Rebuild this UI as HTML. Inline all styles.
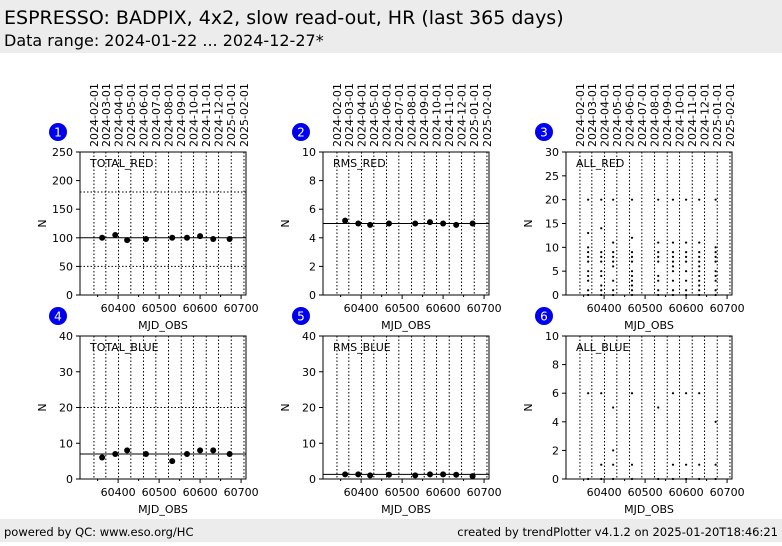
<!DOCTYPE html>
<html><head><meta charset="utf-8"><style>
body{margin:0;background:#fff;font-family:"DejaVu Sans","Liberation Sans",sans-serif;}
svg text{font-family:"DejaVu Sans","Liberation Sans",sans-serif;}
</style></head><body>
<svg id="c" width="782" height="542" viewBox="0 0 782 542" xmlns="http://www.w3.org/2000/svg">
<rect x="0" y="0" width="782" height="53" fill="#ececec"/>
<text x="4" y="24" font-size="19" fill="#000">ESPRESSO: BADPIX, 4x2, slow read-out, HR (last 365 days)</text>
<text x="4" y="46" font-size="16" fill="#000">Data range: 2024-01-22 ... 2024-12-27*</text>
<rect x="0" y="519" width="782" height="23" fill="#ececec"/>
<text x="4" y="536" font-size="11.5">powered by QC: www.eso.org/HC</text>
<text x="778" y="536" font-size="11.5" text-anchor="end">created by trendPlotter v4.1.2 on 2025-01-20T18:46:21</text>
<g id="plots"></g>
</svg>
<script>
const mjd = [60361,60393,60422,60468,60532,60568,60600,60632,60672];
const dateLabels = ["2024-02-01","2024-03-01","2024-04-01","2024-05-01","2024-06-01","2024-07-01","2024-08-01","2024-09-01","2024-10-01","2024-11-01","2024-12-01","2025-01-01","2025-02-01"];
const dateMjd = [60341,60370,60401,60431,60462,60492,60523,60554,60584,60615,60645,60676,60707];
const xTicks = [60400,60500,60600,60700];
const xMinor = [60350,60450,60550,60650];
const totalRed = [100,105,96,98,100,100,103,98,98];
const rmsRed = [5.2,5.0,4.9,5.0,5.0,5.1,5.0,4.9,5.0];
const totalBlue = [6,7,8,7,5,7,8,8,7];
const rmsBlue = [1.3,1.3,1.0,1.2,1.0,1.3,1.3,1.2,0.8];
const allRed = [[20,13,10,9,8,7,5,4,3,1,0],[20,14,9,8,7,5,4,2,1,0],[20,11,9,8,7,6,3,1,0],[20,12,9,8,7,5,4,3,2,1,0],[20,11,9,8,7,4,3,1,0],[20,11,9,8,7,6,5,3,1,0],[20,11,9,8,7,5,3,1,0],[20,11,9,8,7,6,5,4,3,2,1,0],[20,10,9,8,7,5,4,3,1,0]];
const allBlue = [[6,0],[6,1,0],[5,2,1,0],[6,1,0],[5,0],[6,1,0],[6,1,0],[6,1,0],[4,1,0]];
const panels = [
 {n:1,name:"TOTAL_RED",x:80,y:152,ymax:250,yt:[0,50,100,150,200,250],vals:totalRed,ref:100,dot:[50,180],top:true},
 {n:2,name:"RMS_RED",x:323,y:152,ymax:10,yt:[0,2,4,6,8,10],vals:rmsRed,ref:5,dot:[],top:true},
 {n:3,name:"ALL_RED",x:566,y:152,ymax:30,yt:[0,5,10,15,20,25,30],multi:allRed,top:true},
 {n:4,name:"TOTAL_BLUE",x:80,y:336,ymax:40,yt:[0,10,20,30,40],vals:totalBlue,ref:7,dot:[20]},
 {n:5,name:"RMS_BLUE",x:323,y:336,ymax:40,yt:[0,10,20,30,40],vals:rmsBlue,ref:1.3,dot:[]},
 {n:6,name:"ALL_BLUE",x:566,y:336,ymax:10,yt:[0,2,4,6,8,10],multi:allBlue}
];
const W=166,H=143,X0=60307,X1=60712;
const NS="http://www.w3.org/2000/svg";
const root=document.getElementById('plots');
function mk(tag,at,parent,txt){const e=document.createElementNS(NS,tag);for(const k in at)e.setAttribute(k,at[k]);if(txt!==undefined)e.textContent=txt;parent.appendChild(e);return e;}
panels.forEach(p=>{
 const g=mk('g',{},root);
 
 
 const sx=v=>p.x+(v-X0)/(X1-X0)*W;
 const sy=v=>p.y+H-v/p.ymax*H;
 dateMjd.forEach((m,i)=>{const x=sx(m);
  const l=mk('line',{x1:x,x2:x,y1:p.y,y2:p.y+H,stroke:'#000','stroke-width':1,'stroke-dasharray':'1.5,2'},g);
  
  
  if(p.top){const t=mk('text',{x:0,y:0,'font-size':11,transform:`translate(${x+4},${p.y-5}) rotate(-90)`},g,dateLabels[i]);
   
   }
 });
 (p.dot||[]).forEach(v=>{const l=mk('line',{x1:p.x,x2:p.x+W,y1:sy(v),y2:sy(v),stroke:'#000','stroke-width':1,'stroke-dasharray':'1.5,2'},g);
  
  });
 if(p.ref!==undefined){const l=mk('line',{x1:p.x,x2:p.x+W,y1:sy(p.ref),y2:sy(p.ref),stroke:'#000','stroke-width':1},g);
  
  }
 const fr=mk('rect',{x:p.x,y:p.y,width:W,height:H,fill:'none',stroke:'#000','stroke-width':1},g);
 
 
 p.yt.forEach(v=>{const y=sy(v);
  mk('line',{x1:p.x-4,x2:p.x,y1:y,y2:y,stroke:'#000'},g);
  const t=mk('text',{x:p.x-7,y:y+4,'font-size':11,'text-anchor':'end'},g,v);
  
  });
 xMinor.forEach(v=>{const x=sx(v);mk('line',{x1:x,x2:x,y1:p.y+H,y2:p.y+H+2,stroke:'#000'},g);});
 xTicks.forEach(v=>{const x=sx(v);
  mk('line',{x1:x,x2:x,y1:p.y+H,y2:p.y+H+4,stroke:'#000'},g);
  const t=mk('text',{x:x,y:p.y+H+17,'font-size':11,'text-anchor':'middle'},g,v);
  
  });
 const xl=mk('text',{x:p.x+W/2,y:p.y+H+34,'font-size':11,'text-anchor':'middle'},g,'MJD_OBS');
 
 
 const yl=mk('text',{x:0,y:0,'font-size':11,'text-anchor':'middle',transform:`translate(${p.x-34},${p.y+H/2}) rotate(-90)`},g,'N');
 
 
 const nm=mk('text',{x:p.x+10,y:p.y+15,'font-size':11},g,p.name);
 
 
 const c=mk('circle',{cx:p.x-22,cy:p.y-20,r:9,fill:'#0000ee'},g);
 
 
 const ct=mk('text',{x:p.x-22,y:p.y-15.5,'font-size':12,fill:'#fff','text-anchor':'middle'},g,p.n);
 
 
 if(p.vals){p.vals.forEach((v,i)=>{const d=mk('circle',{cx:sx(mjd[i]),cy:sy(v),r:3,fill:'#000'},g);
  
  });}
 if(p.multi){p.multi.forEach((arr,i)=>{arr.forEach(v=>{const d=mk('circle',{cx:sx(mjd[i]),cy:sy(v),r:1.1,fill:'#000'},g);
  
  });});}
});
</script>
</body></html>
